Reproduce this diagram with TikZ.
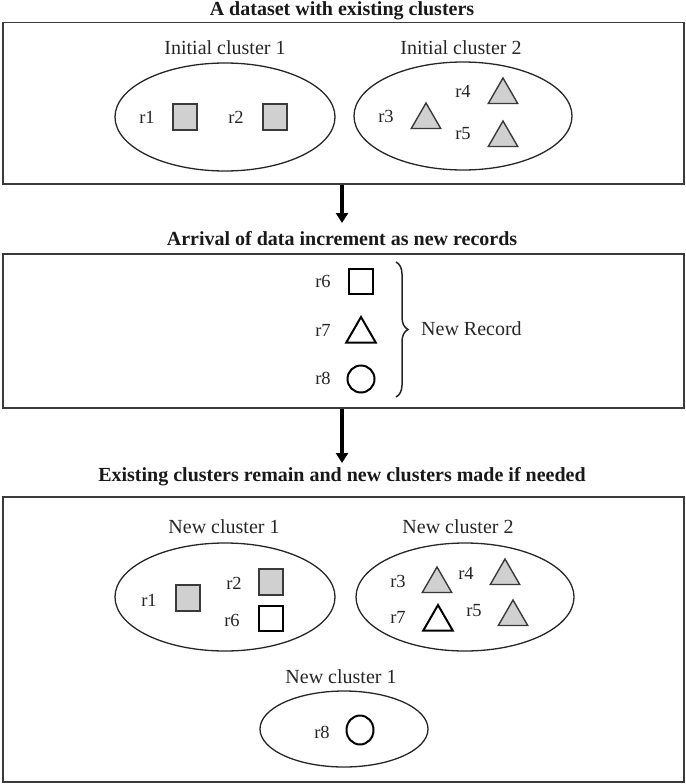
\documentclass[tikz,border=0pt]{standalone}
\usepackage{fontspec}
\setmainfont{Liberation Serif}
\usetikzlibrary{shapes.geometric,arrows.meta,decorations.pathreplacing}
\definecolor{shade}{HTML}{D0D0D0}
\definecolor{edge}{HTML}{3A3A3A}
\tikzset{
  panel/.style={draw=edge, line width=1.5pt},
  ttl/.style={font=\fontsize{20}{22}\selectfont\bfseries, text=black!90},
  clab/.style={font=\fontsize{20}{22}\selectfont, text=black!85},
  rlab/.style={font=\fontsize{18.5}{20}\selectfont, text=black!85, inner sep=0pt},
  clus/.style={ellipse, draw=black!85, line width=1.3pt, inner sep=0pt},
  oldsq/.style={rectangle, draw=edge, fill=shade, line width=1.6pt, minimum width=24pt, minimum height=26pt, inner sep=0pt},
  newsq/.style={rectangle, draw=black, fill=white, line width=2pt, minimum width=24pt, minimum height=25pt, inner sep=0pt},
  oldtri/.style={regular polygon, regular polygon sides=3, draw=edge, fill=shade, line width=1.4pt, minimum size=34pt, inner sep=0pt},
  newtri/.style={regular polygon, regular polygon sides=3, draw=black, fill=white, line width=2pt, minimum size=34pt, inner sep=0pt},
  newcirc/.style={ellipse, draw=black, line width=2pt, minimum width=27pt, minimum height=29pt, inner sep=0pt},
  flow/.style={line width=3.5pt, -{Triangle[length=10pt,width=12pt]}}
}
\begin{document}
\begin{tikzpicture}[x=1pt,y=-1pt]
\useasboundingbox (0,0) rectangle (685,784);
% ---------- panel 1
\node[ttl] (t1) at (342,11) {A dataset with existing clusters};
\node[panel, minimum width=681pt, minimum height=161pt, inner sep=0pt, anchor=north west] (b1) at (2,22) {};
\node[clab] (l1) at (225,48) {Initial cluster 1};
\node[clab] (l2) at (461,48) {Initial cluster 2};
\node[clus, minimum width=220pt, minimum height=108pt] (e1) at (225,117) {};
\node[clus, minimum width=218pt, minimum height=108pt] (e2) at (463,116) {};
\node[rlab] (r1a) at (147,117) {r1};
\node[oldsq] (s1a) at (185,117) {};
\node[rlab] (r2a) at (236,117) {r2};
\node[oldsq] (s2a) at (275,117) {};
\node[rlab] (r3a) at (386,116) {r3};
\node[oldtri] (t3a) at (426,120) {};
\node[rlab] (r4a) at (463,91) {r4};
\node[oldtri] (t4a) at (503,95) {};
\node[rlab] (r5a) at (463,134) {r5};
\node[oldtri] (t5a) at (503,138) {};
% ---------- panel 2
\node[ttl] (t2) at (342,239) {Arrival of data increment as new records};
\node[panel, minimum width=681pt, minimum height=154pt, inner sep=0pt, anchor=north west] (b2) at (2,253) {};
\coordinate (a1) at (342,223);
\draw[flow] (b1.south -| a1) -- (a1);
\node[rlab] (r6b) at (323,281) {r6};
\node[newsq] (s6b) at (361,281) {};
\node[rlab] (r7b) at (323,330) {r7};
\node[newtri] (t7b) at (361,334) {};
\node[rlab] (r8b) at (323,378) {r8};
\node[newcirc, minimum width=27pt, minimum height=27pt] (c8b) at (361,379) {};
\coordinate (bt) at (396,262);
\coordinate (bb) at (396,397);
\draw[line width=1.5pt, black!85, decorate, decoration={brace, amplitude=12pt, aspect=0.5}] (bt) -- (bb);
\node[clab, anchor=west, inner sep=0pt] (nr) at (421,329) {New Record};
% ---------- panel 3
\node[ttl] (t3) at (342,477) {Existing clusters remain and new clusters made if needed};
\node[panel, minimum width=681pt, minimum height=285pt, inner sep=0pt, anchor=north west] (b3) at (2,496) {};
\coordinate (a2) at (342,463);
\draw[flow] (b2.south -| a2) -- (a2);
\node[clab] (l3) at (224,527) {New cluster 1};
\node[clab] (l4) at (458,527) {New cluster 2};
\node[clus, minimum width=220pt, minimum height=108pt] (e4) at (225,597) {};
\node[clus, minimum width=218pt, minimum height=108pt] (e5) at (465,597) {};
\node[rlab] (r1c) at (149,600) {r1};
\node[oldsq] (s1c) at (188,598) {};
\node[rlab] (r2c) at (234,583) {r2};
\node[oldsq] (s2c) at (271,582) {};
\node[rlab] (r6c) at (232,620) {r6};
\node[newsq] (s6c) at (271,618) {};
\node[rlab] (r3c) at (398,581) {r3};
\node[oldtri] (t3c) at (437,584) {};
\node[rlab] (r4c) at (466,573) {r4};
\node[oldtri] (t4c) at (505,576) {};
\node[rlab] (r7c) at (398,617) {r7};
\node[newtri] (t7c) at (438,622) {};
\node[rlab] (r5c) at (474,611) {r5};
\node[oldtri] (t5c) at (513,617) {};
\node[clab] (l5) at (341,677) {New cluster 1};
\node[clus, minimum width=168pt, minimum height=76pt] (e6) at (344,729) {};
\node[rlab] (r8c) at (322,732) {r8};
\node[newcirc] (c8c) at (360,730) {};
\end{tikzpicture}
\end{document}
